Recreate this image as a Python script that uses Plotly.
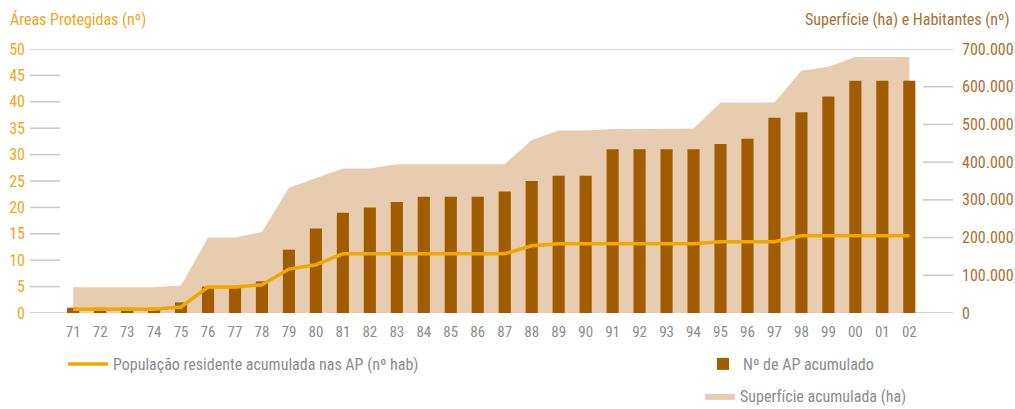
import plotly.graph_objects as go

years = ["71","72","73","74","75","76","77","78","79","80","81","82","83","84","85","86",
         "87","88","89","90","91","92","93","94","95","96","97","98","99","00","01","02"]
n_ap = [1,1,1,1,2,5,5,6,12,16,19,20,21,22,22,22,
        23,25,26,26,31,31,31,31,32,33,37,38,41,44,44,44]
superficie = [68000,68000,68000,68000,73000,200000,200000,215000,332000,357000,383000,383000,
              394600,394600,394600,394600,394600,459000,483700,483700,488000,488000,488000,489000,
              558000,558000,558000,642600,653200,678800,678800,678800]
populacao = [10000,10000,10000,10000,16000,69000,69000,75000,116500,128000,157000,157000,
             157000,157000,157000,157000,157000,178300,183600,183600,183600,183600,183600,183600,
             189000,189000,189000,204800,204800,204800,204800,204800]
left_ticks = [0,5,10,15,20,25,30,35,40,45,50]
right_ticks = [0,100000,200000,300000,400000,500000,600000,700000]
right_ticktext = ["0","100.000","200.000","300.000","400.000","500.000","600.000","700.000"]

FONT = "Roboto Condensed, DejaVu Sans Condensed, sans-serif"
C_BAR = "#A15C00"
C_AREA = "#E8CCAF"
C_LINE = "#F0A800"
C_LEFT = "#F2A51E"
C_RIGHT = "#A8702C"
C_GRID = "#C9C9C9"
C_XT = "#8C8C8C"

fig = go.Figure()
fig.add_trace(go.Scatter(x=years, y=superficie, yaxis="y", mode="lines", fill="tozeroy",
                         line=dict(width=0, color=C_AREA), fillcolor=C_AREA,
                         name="Superfície acumulada (ha)", legend="legend3"))
fig.add_trace(go.Bar(x=years, y=n_ap, yaxis="y2", marker=dict(color=C_BAR, line=dict(width=0)),
                     width=0.45, name="Nº de AP acumulado", legend="legend2"))
fig.add_trace(go.Scatter(x=years, y=populacao, yaxis="y3", mode="lines",
                         line=dict(width=3.5, color=C_LINE),
                         name="População residente acumulada nas AP (nº hab)", legend="legend"))

# grid stubs and full top/bottom lines
shapes = []
stub = 30 / 923
for v in left_ticks:
    if v in (left_ticks[0], left_ticks[-1]):
        shapes.append(dict(type="line", xref="paper", yref="y2", x0=0, x1=1, y0=v, y1=v,
                           line=dict(color=C_GRID, width=1.5), layer="below"))
    else:
        shapes.append(dict(type="line", xref="paper", yref="y2", x0=0, x1=stub, y0=v, y1=v,
                           line=dict(color=C_GRID, width=1.5), layer="below"))
for v in right_ticks[1:-1]:
    shapes.append(dict(type="line", xref="paper", yref="y", x0=1 - stub, x1=1, y0=v, y1=v,
                       line=dict(color=C_GRID, width=1.5), layer="below"))

leg_common = dict(xref="container", yref="container", xanchor="left", yanchor="middle",
                  bgcolor="rgba(0,0,0,0)", font=dict(size=16, color=C_XT, family=FONT))

fig.update_layout(
    width=1015, height=409,
    margin=dict(l=30, r=62, t=49, b=96, autoexpand=False),
    paper_bgcolor="white", plot_bgcolor="white",
    font=dict(family=FONT, size=15, color=C_XT),
    showlegend=True,
    shapes=shapes,
    xaxis=dict(type="category", range=[-1.6, 32.62], showgrid=False, zeroline=False,
               showline=False, ticks="", automargin=False, tickangle=0, ticklabelstandoff=8,
               tickfont=dict(size=15, color=C_XT, family=FONT)),
    yaxis=dict(side="right", range=[0, 700000], tickvals=right_ticks, ticktext=right_ticktext,
               showgrid=False, zeroline=False, showline=False, ticks="", automargin=False,
               ticklabelstandoff=8,
               tickfont=dict(size=16, color=C_RIGHT, family=FONT)),
    yaxis2=dict(side="left", overlaying="y", range=[0, 50], tickvals=left_ticks,
                showgrid=False, zeroline=False, showline=False, ticks="", automargin=False,
                ticklabelstandoff=4,
                tickfont=dict(size=16, color=C_LEFT, family=FONT)),
    yaxis3=dict(overlaying="y", range=[0, 700000], visible=False),
    legend=dict(x=63/1015, y=1 - 364/409, itemwidth=40, **leg_common),
    legend2=dict(x=703/1015, y=1 - 364/409, itemwidth=30, **leg_common),
    legend3=dict(x=700/1015, y=1 - 396/409, itemwidth=30, **leg_common),
    annotations=[
        dict(text="Áreas Protegidas (nº)", xref="paper", yref="paper", x=-22/923, y=1 + 29/264,
             xanchor="left", yanchor="middle", showarrow=False,
             font=dict(size=16, color=C_LEFT, family=FONT)),
        dict(text="Superfície (ha) e Habitantes (nº)", xref="paper", yref="paper",
             x=1 + 59/923, y=1 + 29/264, xanchor="right", yanchor="middle", showarrow=False,
             font=dict(size=16, color=C_RIGHT, family=FONT)),
    ],
)

fig.write_html("out.html", config={"displayModeBar": False},
               post_script="document.body.style.margin='0px';")
